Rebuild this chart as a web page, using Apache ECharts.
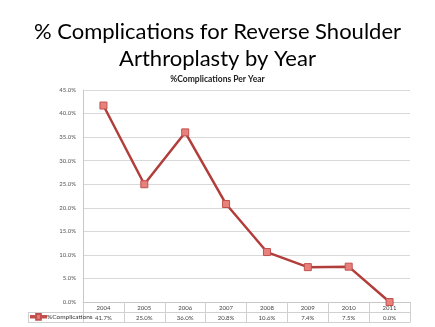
<!DOCTYPE html>
<html><head><meta charset="utf-8">
<script src="https://cdn.jsdelivr.net/npm/echarts@6/dist/echarts.min.js"></script>
<style>html,body{margin:0;padding:0;background:#fff}#c{width:435px;height:327px}</style>
</head><body><div id="c"></div>
<script>
const titleText = "% Complications for Reverse Shoulder\nArthroplasty by Year";
const subtitleText = "%Complications Per Year";
const seriesName = "%Complications";
const years = ["2004","2005","2006","2007","2008","2009","2010","2011"];
const values = [41.7, 25.0, 36.0, 20.8, 10.6, 7.4, 7.5, 0.0];

const chart = echarts.init(document.getElementById('c'), null, {renderer:'canvas'});
const FONT = 'Lato';
chart.setOption({
  animation:false,
  backgroundColor:'#fff',
  title:[
    {text:titleText, left:'center', top:13, textStyle:{fontFamily:FONT, fontSize:22, fontWeight:'normal', color:'#000', lineHeight:27}},
    {text:subtitleText, left:'center', top:70, textStyle:{fontFamily:FONT, fontSize:8.5, fontWeight:'bold', color:'#222'}}
  ],
  legend:{
    data:[{name:seriesName, icon:'path://M0,4.2 L5.5,4.2 L5.5,2 L10.5,2 L10.5,4.2 L16,4.2 L16,5.8 L10.5,5.8 L10.5,8 L5.5,8 L5.5,5.8 L0,5.8 Z'}],
    left:30, top:313, padding:0, itemWidth:15, itemHeight:8, itemGap:0,
    textStyle:{fontFamily:FONT, fontSize:6.5, color:'#333', padding:[0,0,0,-4]}
  },
  grid:{left:83, right:25, top:90, bottom:25},
  xAxis:[
    {type:'category', data:years, boundaryGap:true, position:'bottom',
     axisLine:{lineStyle:{color:'#c8c8c8', width:1}},
     axisTick:{show:true, length:20, interval:0, lineStyle:{color:'#d0d0d0'}},
     axisLabel:{fontFamily:FONT, fontSize:6, color:'#444', margin:3, interval:0}},
    {type:'category', data:years, boundaryGap:true, position:'bottom', offset:10,
     axisLine:{lineStyle:{color:'#d0d0d0', width:1}},
     axisTick:{show:false},
     axisLabel:{fontFamily:FONT, fontSize:6, color:'#444', margin:3, interval:0,
       formatter:(v,i)=>values[i].toFixed(1)+'%'}},
    {type:'category', data:years, boundaryGap:true, position:'bottom', offset:20,
     axisLine:{lineStyle:{color:'#d0d0d0', width:1}},
     axisTick:{show:false}, axisLabel:{show:false}}
  ],
  yAxis:{type:'value', min:0, max:45, interval:5,
    axisLine:{show:true, lineStyle:{color:'#c8c8c8'}},
    axisTick:{show:false},
    axisLabel:{fontFamily:FONT, fontSize:6, color:'#555', margin:7, formatter:v=>v.toFixed(1)+'%'},
    splitLine:{lineStyle:{color:'#d9d9d9', width:1}}},
  series:[{
    name:seriesName, type:'line', data:values, xAxisIndex:0,
    symbol:'rect', symbolSize:7,
    lineStyle:{color:'#b23e3b', width:2.5},
    itemStyle:{color:'#e8807c', borderColor:'#c0504d', borderWidth:1},
    z:5
  }],
  graphic:[
    {type:'line', shape:{x1:28, y1:312.5, x2:83, y2:312.5}, style:{stroke:'#d0d0d0', lineWidth:1}},
    {type:'line', shape:{x1:28, y1:322.5, x2:83, y2:322.5}, style:{stroke:'#d0d0d0', lineWidth:1}},
    {type:'line', shape:{x1:28.5, y1:312, x2:28.5, y2:323}, style:{stroke:'#d0d0d0', lineWidth:1}}
  ]
});
</script></body></html>
